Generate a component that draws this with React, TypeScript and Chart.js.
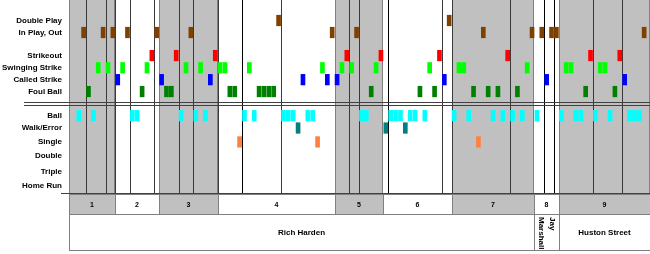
import React, { useEffect, useRef } from 'react';
import { Chart, registerables } from 'chart.js';

Chart.register(...registerables);

// Row labels (top to bottom) and their positions on the vertical axis (row units)
const rowLabels = [
  'Double Play',
  'In Play, Out',
  'Strikeout',
  'Swinging Strike',
  'Called Strike',
  'Foul Ball',
  'Ball',
  'Walk/Error',
  'Single',
  'Double',
  'Triple',
  'Home Run',
];
const rowPos = [1.71, 2.71, 4.63, 5.65, 6.64, 7.63, 9.64, 10.67, 11.83, 13.0, 14.28, 15.5];
const separatorRows = [8.5, 8.75];

// Pitch numbers (1..117) for each outcome
const doublePlayPitches = [42, 77];
const inPlayOutPitches = [2, 6, 8, 11, 17, 24, 53, 58, 84, 94, 96, 98, 99, 117];
const strikeoutPitches = [16, 21, 29, 56, 63, 75, 89, 106, 112];
const swingingPitches = [5, 7, 10, 15, 23, 26, 30, 31, 36, 51, 55, 57, 62, 73, 79, 80, 93, 101, 102, 108, 109];
const calledPitches = [9, 18, 28, 47, 52, 54, 76, 97, 113];
const foulPitches = [3, 14, 19, 20, 32, 33, 38, 39, 40, 41, 61, 71, 74, 82, 85, 87, 91, 105, 111];
const ballPitches = [1, 4, 12, 13, 22, 25, 27, 35, 37, 43, 44, 45, 48, 49, 59, 60, 65, 66, 67, 69, 70, 72, 78, 81, 86, 88, 90, 92, 95, 100, 103, 104, 107, 110, 114, 115, 116];
const walkErrorPitches = [46, 64, 68];
const singlePitches = [34, 50, 83];
const doublePitches: number[] = [];
const triplePitches: number[] = [];
const homeRunPitches: number[] = [];

// Boundaries (between pitches)
const batterLines = [2.5, 6.5, 8.5, 11.5, 16.5, 21.5, 24.5, 29.5, 34.5, 42.5, 56.5, 58.5, 64.5, 75.5, 77.5, 89.5, 96.5, 98.5, 106.5, 112.5];
const strongBatterLines = [34.5, 64.5, 96.5, 98.5];
const inningLabels = ['1', '2', '3', '4', '5', '6', '7', '8', '9'];
const inningEnds = [8.5, 17.5, 29.5, 53.5, 63.5, 77.5, 94.5, 99.5];
const pitcherNames = [['Rich Harden'], ['Jay', 'Marshall'], ['Huston Street']];
const pitcherEnds = [94.5, 99.5];

const X_MIN = -1;
const X_MAX = 118.2;
const FONT = '"Liberation Sans", Arial, sans-serif';

const series = [
  { label: 'Double Play', pitches: doublePlayPitches, row: 0, color: '#804000' },
  { label: 'In Play, Out', pitches: inPlayOutPitches, row: 1, color: '#804000' },
  { label: 'Strikeout', pitches: strikeoutPitches, row: 2, color: '#FF0000' },
  { label: 'Swinging Strike', pitches: swingingPitches, row: 3, color: '#00FF00' },
  { label: 'Called Strike', pitches: calledPitches, row: 4, color: '#0000FF' },
  { label: 'Foul Ball', pitches: foulPitches, row: 5, color: '#008000' },
  { label: 'Ball', pitches: ballPitches, row: 6, color: '#00FFFF' },
  { label: 'Walk/Error', pitches: walkErrorPitches, row: 7, color: '#008080' },
  { label: 'Single', pitches: singlePitches, row: 8, color: '#FF8040' },
  { label: 'Double', pitches: doublePitches, row: 9, color: '#FF8040' },
  { label: 'Triple', pitches: triplePitches, row: 10, color: '#FF8040' },
  { label: 'Home Run', pitches: homeRunPitches, row: 11, color: '#FF8040' },
];

const HALF = 0.44;

const crisp = (v: number) => Math.round(v) + 0.5;

const backdropPlugin = {
  id: 'backdrop',
  beforeDatasetsDraw(chart: any) {
    const { ctx, chartArea: a, scales } = chart;
    const x = scales.x;
    const y = scales.y;
    const bounds = [X_MIN, ...inningEnds, X_MAX];
    ctx.save();
    // inning shading
    for (let i = 0; i < bounds.length - 1; i++) {
      if (i % 2 !== 0) continue;
      const l = Math.round(x.getPixelForValue(bounds[i]));
      const r = Math.round(x.getPixelForValue(bounds[i + 1]));
      ctx.fillStyle = '#C0C0C0';
      ctx.fillRect(l, a.top, r - l, a.bottom - a.top);
      ctx.strokeStyle = '#808080';
      ctx.lineWidth = 1;
      ctx.beginPath();
      ctx.moveTo(l + 0.5, a.top);
      ctx.lineTo(l + 0.5, a.bottom);
      ctx.moveTo(r - 0.5, a.top);
      ctx.lineTo(r - 0.5, a.bottom);
      ctx.stroke();
    }
    // batter separators
    batterLines.forEach((b) => {
      const px = crisp(x.getPixelForValue(b));
      ctx.strokeStyle = strongBatterLines.includes(b) ? '#000000' : '#3a3a3a';
      ctx.lineWidth = 1;
      ctx.beginPath();
      ctx.moveTo(px, a.top);
      ctx.lineTo(px, a.bottom);
      ctx.stroke();
    });
    // double separator between the two panels
    ctx.strokeStyle = '#404040';
    separatorRows.forEach((r) => {
      const py = crisp(y.getPixelForValue(r));
      ctx.beginPath();
      ctx.moveTo(24, py);
      ctx.lineTo(a.right, py);
      ctx.stroke();
    });
    ctx.restore();
  },
  afterDraw(chart: any) {
    const { ctx, chartArea: a, scales } = chart;
    const x = scales.x;
    const top = a.bottom;
    const innH = 20;
    const pitH = 36;
    ctx.save();
    // inning row
    const bounds = [X_MIN, ...inningEnds, X_MAX];
    for (let i = 0; i < bounds.length - 1; i++) {
      const l = Math.round(x.getPixelForValue(bounds[i]));
      const r = Math.round(x.getPixelForValue(bounds[i + 1]));
      ctx.fillStyle = i % 2 === 0 ? '#C0C0C0' : '#FFFFFF';
      ctx.fillRect(l, top, r - l, innH);
      ctx.strokeStyle = '#808080';
      ctx.lineWidth = 1;
      ctx.strokeRect(l + 0.5, top + 0.5, r - l, innH);
      ctx.fillStyle = '#000';
      ctx.font = `bold 7px ${FONT}`;
      ctx.textAlign = 'center';
      ctx.textBaseline = 'middle';
      ctx.fillText(inningLabels[i], (l + r) / 2, top + innH / 2 + 1);
    }
    // pitcher row
    const pb = [X_MIN, ...pitcherEnds, X_MAX];
    for (let i = 0; i < pb.length - 1; i++) {
      const l = Math.round(x.getPixelForValue(pb[i]));
      const r = Math.round(x.getPixelForValue(pb[i + 1]));
      ctx.fillStyle = '#FFFFFF';
      ctx.fillRect(l, top + innH, r - l, pitH);
      ctx.strokeStyle = '#808080';
      ctx.strokeRect(l + 0.5, top + innH + 0.5, r - l, pitH);
      const lines = pitcherNames[i];
      ctx.fillStyle = '#000';
      ctx.font = `bold 8px ${FONT}`;
      const cx = (l + r) / 2;
      if (lines.length === 1) {
        ctx.textAlign = 'center';
        ctx.textBaseline = 'middle';
        ctx.fillText(lines[0], cx, top + innH + pitH / 2 + 1);
      } else {
        ctx.save();
        ctx.translate(cx, top + innH + 3);
        ctx.rotate(Math.PI / 2);
        ctx.textAlign = 'left';
        ctx.textBaseline = 'middle';
        ctx.fillText(lines[0], 0, -6);
        ctx.fillText(lines[1], 0, 5.5);
        ctx.restore();
      }
    }
    // line along the bottom of the plot
    ctx.strokeStyle = '#404040';
    ctx.beginPath();
    ctx.moveTo(61, crisp(top) - 1);
    ctx.lineTo(a.right, crisp(top) - 1);
    ctx.stroke();
    ctx.restore();
  },
};

export default function App() {
  const ref = useRef<HTMLCanvasElement>(null);

  useEffect(() => {
    if (!ref.current) return;
    const datasets = series.map((s) => ({
      label: s.label,
      data: s.pitches.map((p) => ({ x: p, y: [rowPos[s.row] - HALF, rowPos[s.row] + HALF] })),
      backgroundColor: s.color,
      borderWidth: 0,
      barThickness: 4,
      grouped: false,
    }));
    const chart = new Chart(ref.current, {
      type: 'bar',
      data: { datasets } as any,
      options: {
        animation: false,
        responsive: false,
        maintainAspectRatio: false,
        layout: { padding: { left: 0, right: 0, top: 0, bottom: 60 } },
        plugins: {
          legend: { display: false },
          tooltip: { enabled: false },
        },
        scales: {
          x: {
            type: 'linear',
            min: X_MIN,
            max: X_MAX,
            offset: false,
            grid: { offset: false },
            display: false,
          },
          y: {
            type: 'linear',
            min: 0,
            max: 16.17,
            reverse: true,
            grid: { display: false, drawTicks: false },
            border: { display: false },
            afterBuildTicks: (s: any) => {
              s.ticks = rowPos.map((v) => ({ value: v }));
            },
            afterFit: (s: any) => {
              s.width = 69;
              s.paddingTop = 0;
              s.paddingBottom = 0;
            },
            ticks: {
              autoSkip: false,
              padding: 7,
              color: '#000',
              font: { family: FONT, size: 8, weight: 'bold' },
              callback: (_v: any, i: number) => rowLabels[i],
            },
          },
        },
      } as any,
      plugins: [backdropPlugin],
    });
    return () => chart.destroy();
  }, []);

  return (
    <div style={{ position: 'fixed', left: 0, top: 0, width: 650, height: 254, background: '#fff' }}>
      <canvas ref={ref} width={650} height={254} style={{ display: 'block' }} />
    </div>
  );
}
